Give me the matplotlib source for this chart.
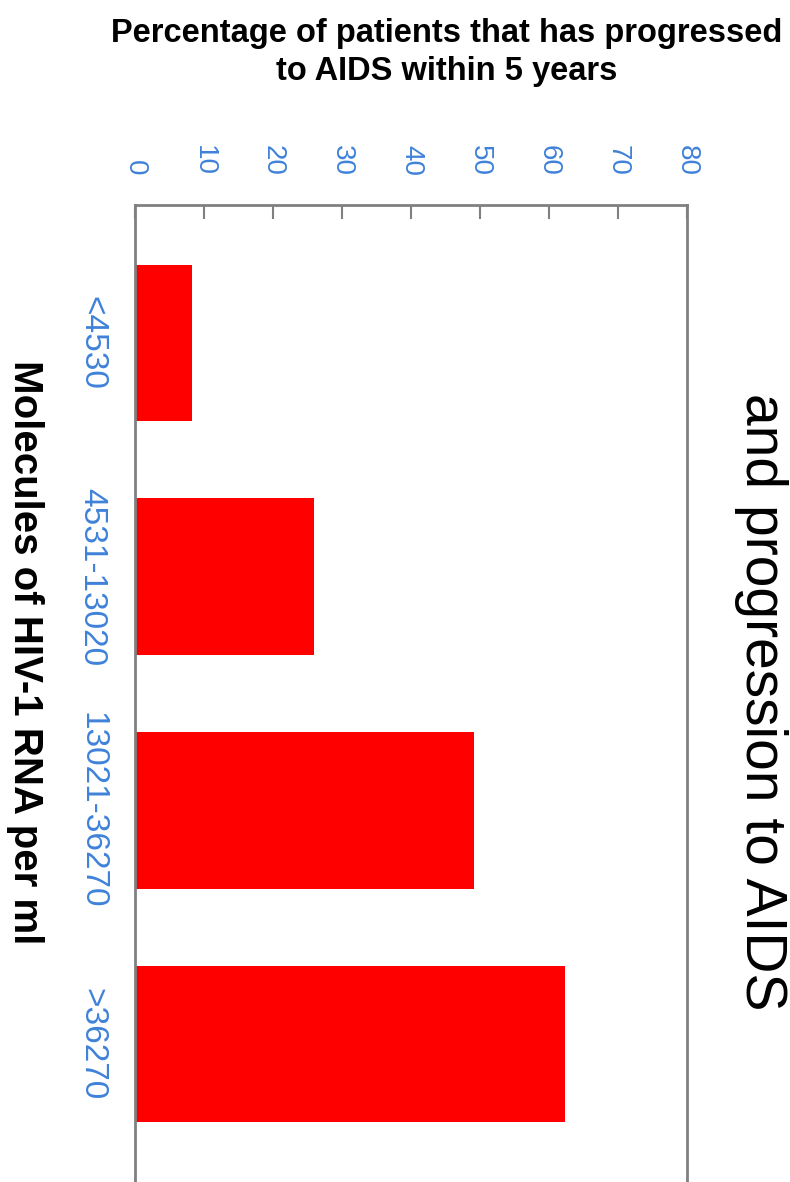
import matplotlib.pyplot as plt

plt.rcParams["font.family"] = ["Liberation Sans", "DejaVu Sans"]

# data
categories = ["<4530", "4531-13020", "13021-36270", ">36270"]
percent_aids = [8.2, 26.0, 49.2, 62.3]
value_ticks = [0, 10, 20, 30, 40, 50, 60, 70, 80]

blue = "#3f82d9"
spine_grey = "#808080"

fig = plt.figure(figsize=(7.9, 11.82), dpi=100)
ax = fig.add_axes([0.1709, 0.0, 0.6987, 0.8266])

pos = list(range(len(categories)))
ax.barh(pos, percent_aids, height=0.67, color="#ff0000", edgecolor="none")

ax.set_xlim(0, 80)
ax.set_ylim(3.59, -0.59)

ax.xaxis.tick_top()
ax.set_xticks(value_ticks)
ax.set_xticklabels([str(v) for v in value_ticks], rotation=-90, color=blue, fontsize=20)
ax.tick_params(axis="x", direction="in", length=10, width=1.5, color=spine_grey, pad=21)

ax.set_yticks(pos)
ax.set_yticklabels(categories, rotation=-90, color=blue, fontsize=24, va="center")
ax.tick_params(axis="y", length=0, pad=20)

for side in ["top", "left", "right"]:
    ax.spines[side].set_color(spine_grey)
    ax.spines[side].set_linewidth(2)
ax.spines["bottom"].set_visible(False)

fig.text(0.565, 0.985, "Percentage of patients that has progressed\nto AIDS within 5 years",
         ha="center", va="top", fontsize=23.5, fontweight="bold", linespacing=1.3)
fig.text(25 / 790, 1 - 652 / 1182, "Molecules of HIV-1 RNA per ml", rotation=-90,
         ha="center", va="center", fontsize=29, fontweight="bold")
fig.text(761 / 790, 1 - 702 / 1182, "and progression to AIDS", rotation=-90,
         ha="center", va="center", fontsize=41)

fig.savefig("out.png", dpi=100)
